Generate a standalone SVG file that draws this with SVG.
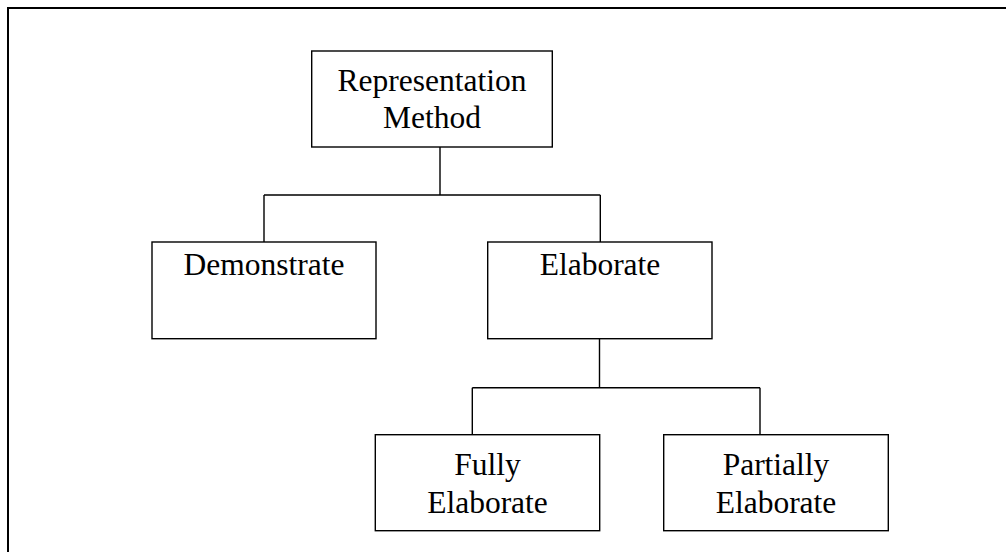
<svg xmlns="http://www.w3.org/2000/svg" width="1006" height="552" viewBox="0 0 1006 552">
<style>
.box{fill:#fff;stroke:#000;stroke-width:1.4}
.lbl{font-family:"Liberation Serif","Times New Roman",serif;font-size:31.5px;fill:#000;text-anchor:middle}
.con{fill:none;stroke:#000;stroke-width:1.4}
</style>
<rect width="1006" height="552" fill="#fff"/>
<path d="M8 560 V8 H1010" fill="none" stroke="#000" stroke-width="2"/>
<g id="connectors">
<path class="con" d="M440 147 V195 M264 195 H600.3 M264 195 V242 M600.3 195 V242"/>
<path class="con" d="M599.5 338.7 V387.7 M472.3 387.7 H760 M472.3 387.7 V434.7 M760 387.7 V434.7"/>
</g>
<g id="node-representation">
<rect class="box" x="311.7" y="51" width="240.6" height="96"/>
<text class="lbl" x="432" y="90.7">Representation</text>
<text class="lbl" x="432" y="128">Method</text>
</g>
<g id="node-demonstrate">
<rect class="box" x="152" y="242" width="224" height="96.7"/>
<text class="lbl" x="264" y="275">Demonstrate</text>
</g>
<g id="node-elaborate">
<rect class="box" x="487.7" y="242" width="224.3" height="96.7"/>
<text class="lbl" x="600" y="275">Elaborate</text>
</g>
<g id="node-fully">
<rect class="box" x="375.3" y="434.7" width="224.4" height="96"/>
<text class="lbl" x="487.5" y="475">Fully</text>
<text class="lbl" x="487.5" y="513">Elaborate</text>
</g>
<g id="node-partially">
<rect class="box" x="663.7" y="434.7" width="224.6" height="96"/>
<text class="lbl" x="776" y="475">Partially</text>
<text class="lbl" x="776" y="513">Elaborate</text>
</g>
</svg>
